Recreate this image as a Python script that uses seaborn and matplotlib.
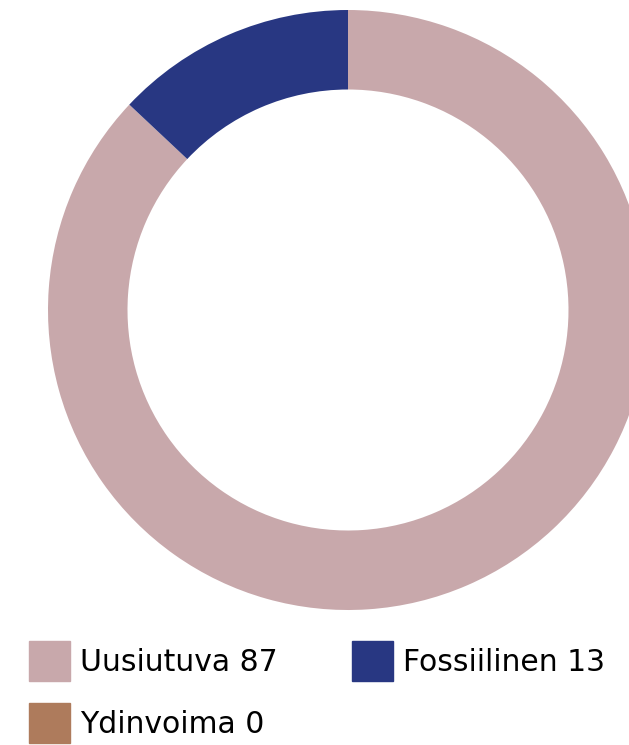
import matplotlib
matplotlib.use("Agg")
import matplotlib.pyplot as plt
import matplotlib.patches as mpatches
import seaborn as sns

# Energy sources (%)
labels = ["Uusiutuva", "Fossiilinen", "Ydinvoima"]
values = [87, 13, 0]
colors = ["#C8A8AB", "#283782", "#AE7B5C"]

sns.set_theme(style="white")
plt.rcParams["font.family"] = ["DejaVu Sans"]

fig = plt.figure(figsize=(6.29, 7.45), dpi=100)
ax = fig.add_axes([48 / 629, 135 / 745, 600 / 629, 600 / 745])

ax.pie(values, colors=colors, startangle=90, counterclock=False, radius=1,
       wedgeprops=dict(width=0.265, linewidth=0))
ax.set_xlim(-1, 1)
ax.set_ylim(-1, 1)
ax.set_aspect("equal")
ax.axis("off")

# Legend: rows read left-to-right, so reorder for column filling
handles = [mpatches.Patch(color=c, label=f"{l} {v}") for l, v, c in zip(labels, values, colors)]
order = [0, 2, 1]
fig.legend([handles[i] for i in order], [handles[i].get_label() for i in order],
           loc="upper left", bbox_to_anchor=(29 / 629, 1 - 641 / 745), ncol=2,
           frameon=False, fontsize=21.5, labelcolor="black",
           handlelength=1.372, handleheight=1.685,
           handletextpad=0.335, columnspacing=2.48, labelspacing=0.735, borderpad=0,
           borderaxespad=0)

plt.savefig("out.png", dpi=100)
